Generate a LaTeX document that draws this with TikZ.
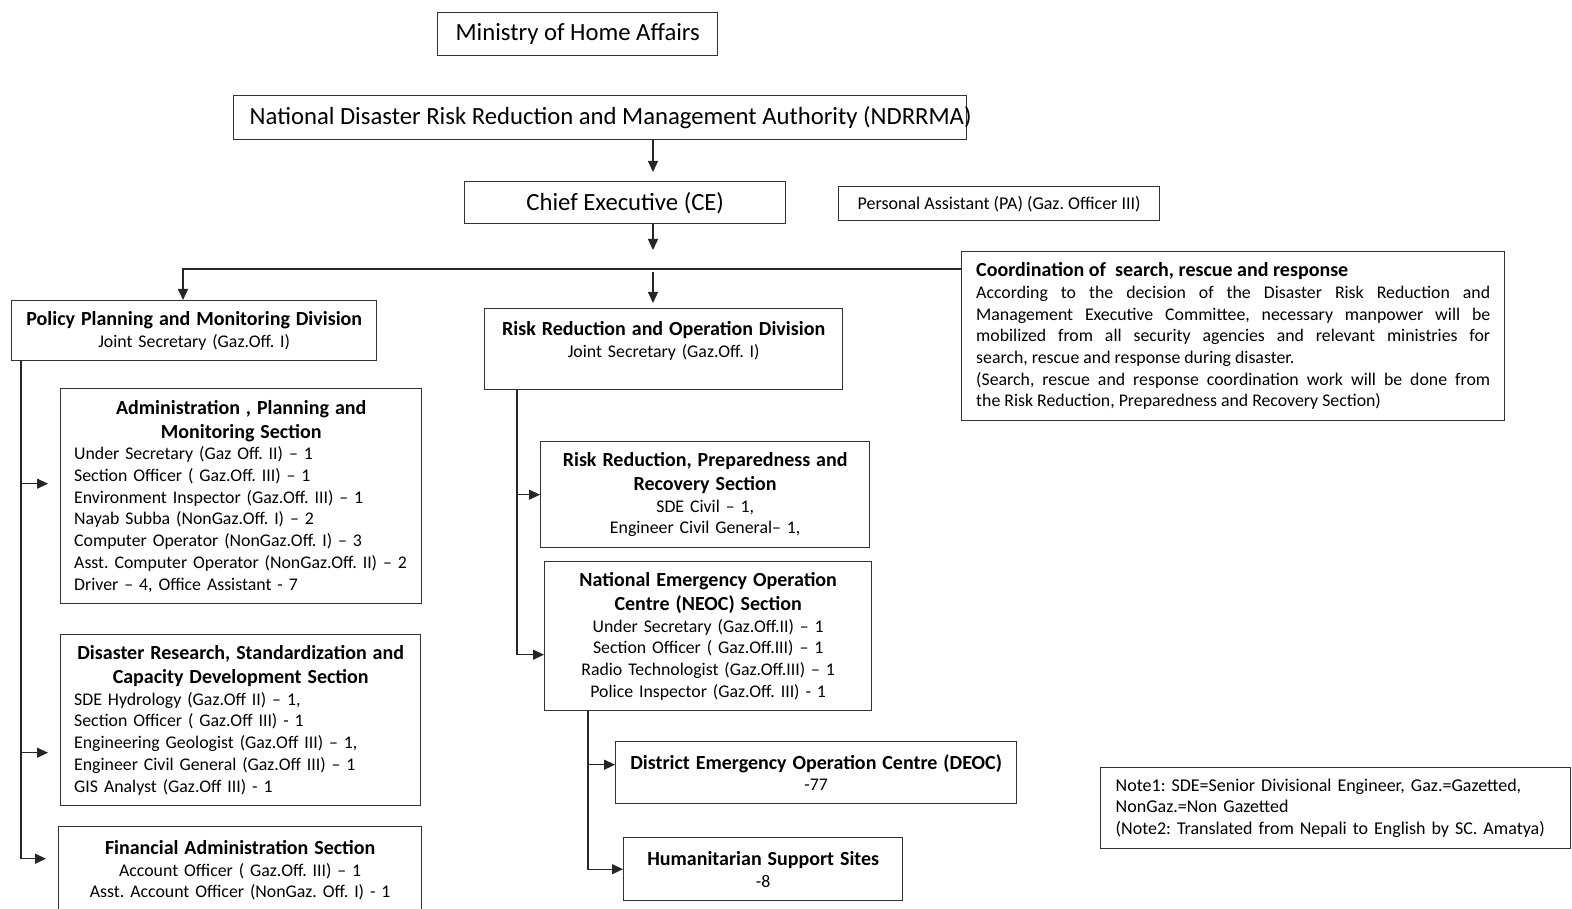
\documentclass[tikz,border=0pt]{standalone}
\usepackage{fontspec}
\setmainfont{Carlito}
\usepackage{tikz}
\usetikzlibrary{arrows.meta}
\frenchspacing
\newcommand{\headSize}{\fontsize{20}{24}\selectfont\bfseries}
\newcommand{\bodySize}{\fontsize{17.8}{21.7}\selectfont}
\tikzset{
    unitBox/.style={rectangle, draw=black!80, line width=1.4pt, anchor=north west, inner sep=0pt, font=\bodySize},
    topBox/.style={unitBox, font=\fontsize{24.7}{29}\selectfont},
    centreBox/.style={unitBox, align=center},
    listBox/.style={unitBox, align=left},
    linkFlow/.style={draw=black!85, line width=1.2pt},
    arrowFlow/.style={linkFlow, -{Triangle[length=11pt, width=10pt]}}
}
\begin{document}
\begin{tikzpicture}[x=1pt, y=-1pt]

    % --- TOP LEVEL ---
    \node[topBox, minimum width=280, minimum height=43] (ministry) at (437,12) {Ministry of Home Affairs};
    \node[topBox, inner xsep=16pt, minimum height=44] (ndrrma) at (233,95)
        {\makebox[701pt][l]{National Disaster Risk Reduction and Management Authority (NDRRMA)}};
    \node[topBox, minimum width=321, minimum height=42] (ce) at (464,181) {Chief Executive (CE)};
    \node[unitBox, font=\fontsize{18}{21}\selectfont, minimum width=321, minimum height=34] (pa) at (838,186) {Personal Assistant (PA) (Gaz. Officer III)};

    % --- COORDINATION NOTE ---
    \node[unitBox, align=justify, text width=514, minimum width=543, minimum height=169,
          font=\bodySize\sloppy] (coord) at (961,251)
        {{\headSize Coordination of \ search, rescue and response\par}
         According to the decision of the Disaster Risk Reduction and\linebreak
         Management Executive Committee, necessary manpower will be\linebreak
         mobilized from all security agencies and relevant ministries for\linebreak
         search, rescue and response during disaster.\par
         (Search, rescue and response coordination work will be done from\linebreak
         the Risk Reduction, Preparedness and Recovery Section)};

    % --- DIVISIONS ---
    \node[centreBox, text width=345, minimum width=365, minimum height=60] (policy) at (11,300)
        {{\headSize Policy Planning and Monitoring Division\par}Joint Secretary (Gaz.Off. I)};
    \node[centreBox, text width=338, minimum width=358, inner ysep=13pt, text depth=41pt] (rro) at (484,308)
        {{\headSize Risk Reduction and Operation Division\par}Joint Secretary (Gaz.Off. I)};

    % --- POLICY SECTIONS ---
    \node[listBox, text width=334, minimum width=361, minimum height=215] (admin) at (60,388)
        {{\centering\headSize Administration , Planning and\\Monitoring Section\par}
         Under Secretary (Gaz Off. II) -- 1\\
         Section Officer ( Gaz.Off. III) -- 1\\
         Environment Inspector (Gaz.Off. III) -- 1\\
         Nayab Subba (NonGaz.Off. I) -- 2\\
         Computer Operator (NonGaz.Off. I) -- 3\\
         \mbox{Asst. Computer Operator (NonGaz.Off. II) -- 2}\\
         Driver -- 4, Office Assistant - 7};
    \node[listBox, text width=333, minimum width=360, minimum height=171] (drscd) at (60,634)
        {{\centering\headSize Disaster Research, Standardization and\\Capacity Development Section\par}
         SDE Hydrology (Gaz.Off II) -- 1,\\
         Section Officer ( Gaz.Off III) - 1\\
         Engineering Geologist (Gaz.Off III) -- 1,\\
         Engineer Civil General (Gaz.Off III) -- 1\\
         GIS Analyst (Gaz.Off III) - 1};
    \node[centreBox, text width=343, minimum width=363, minimum height=87] (fin) at (58,826)
        {{\headSize Financial Administration Section\par}
         Account Officer ( Gaz.Off. III) -- 1\\
         Asst. Account Officer (NonGaz. Off. I) - 1};

    % --- OPERATION SECTIONS ---
    \node[centreBox, text width=309, minimum width=329, minimum height=106] (rrpr) at (540,441)
        {{\headSize Risk Reduction, Preparedness and\\Recovery Section\par}
         SDE Civil -- 1,\\
         Engineer Civil General-- 1,};
    \node[centreBox, text width=307, minimum width=327, minimum height=149] (neoc) at (544,561)
        {{\headSize National Emergency Operation\\Centre (NEOC) Section\par}
         Under Secretary (Gaz.Off.II) -- 1\\
         Section Officer ( Gaz.Off.III) -- 1\\
         Radio Technologist (Gaz.Off.III) -- 1\\
         Police Inspector (Gaz.Off. III) - 1};
    \node[centreBox, text width=391, minimum width=401, minimum height=62] (deoc) at (615,741)
        {{\headSize District Emergency Operation Centre (DEOC)\par}-77};
    \node[centreBox, text width=259, minimum width=279, minimum height=63] (hss) at (623,837)
        {{\headSize Humanitarian Support Sites\par}-8};

    % --- NOTES ---
    \node[listBox, font=\fontsize{18}{21.7}\selectfont, text width=440, minimum width=470, minimum height=81] (note) at (1100,767)
        {Note1: SDE=Senior Divisional Engineer, Gaz.=Gazetted,\\
         NonGaz.=Non Gazetted\\
         (Note2: Translated from Nepali to English by SC. Amatya)};

    % --- MAIN SPINE ---
    \coordinate (bus) at (653,269);
    \coordinate (leftBus) at (183,269);
    \draw[arrowFlow, shorten >=9pt] (ndrrma.south -| bus) -- (ce.north -| bus);
    \draw[arrowFlow, shorten >=19pt] (ce.south -| bus) -- (bus);
    \draw[arrowFlow] (coord.west |- bus) -- (leftBus) -- (leftBus |- policy.north);
    \draw[arrowFlow, shorten <=3pt, shorten >=5pt] (bus) -- (bus |- rro.north);

    % --- BRANCHES ---
    \coordinate (planTrunk) at ([xshift=10pt]policy.south west);
    \draw[arrowFlow, shorten >=12pt] (planTrunk) |- ([yshift=12.5pt]admin.west);
    \draw[arrowFlow, shorten >=12pt] (planTrunk) |- ([yshift=-32.5pt]drscd.west);
    \draw[arrowFlow, shorten >=12pt] (planTrunk) |- ([yshift=11.5pt]fin.west);

    \coordinate (opsTrunk) at ([xshift=33pt]rro.south west);
    \draw[arrowFlow] (opsTrunk) |- (rrpr.west);
    \draw[arrowFlow] (opsTrunk) |- ([yshift=-18.5pt]neoc.west);

    \coordinate (neocTrunk) at ([xshift=44pt]neoc.south west);
    \draw[arrowFlow] (neocTrunk) |- ([yshift=8pt]deoc.west);
    \draw[arrowFlow] (neocTrunk) |- (hss.west);

    \pgfresetboundingbox
    \path (0,0) rectangle (1572,909);

\end{tikzpicture}
\end{document}
